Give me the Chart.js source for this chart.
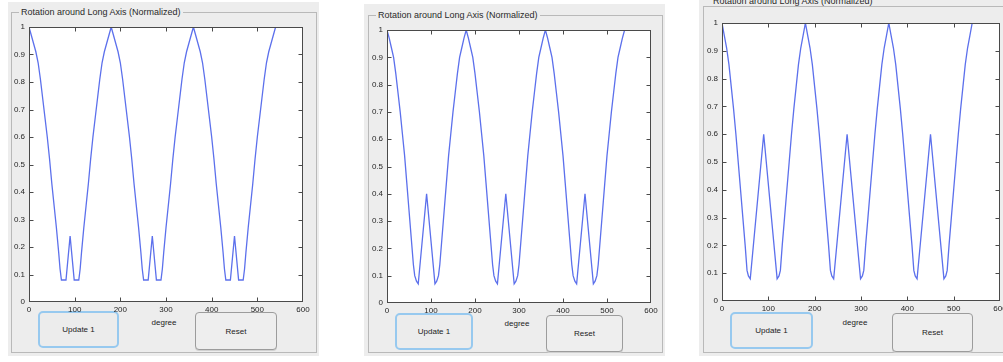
<!DOCTYPE html>
<html><head><meta charset="utf-8">
<script src="https://cdn.jsdelivr.net/npm/chart.js@4.4.0/dist/chart.umd.min.js"></script>
<style>
html,body{margin:0;padding:0;}
body{width:1003px;height:362px;background:#fff;position:relative;overflow:hidden;font-family:"Liberation Sans",Arial,Helvetica,sans-serif;}
.panel{position:absolute;background:#ededed;}
.frame{position:absolute;box-sizing:border-box;border:1px solid #b9b9b9;}
.title{position:absolute;font-size:9px;line-height:10px;color:#2a2a2a;background:#ededed;padding:0 2px;white-space:nowrap;}
.btn{position:absolute;box-sizing:border-box;font-size:8px;color:#222;display:flex;align-items:center;justify-content:center;}
.upd{border:2px solid #97c9ef;border-radius:5px;background:#ececec;}
.rst{border:1px solid #9c9c9c;border-radius:4px;background:#eeeeee;box-shadow:0 1px 0 #d0d0d0;}
.xl{position:absolute;font-size:8px;line-height:9px;color:#222;transform:translateX(-50%);white-space:nowrap;}
.cv{position:absolute;}
</style>
</head><body>
<script>
// ---------- data ----------
const titleText = "Rotation around Long Axis (Normalized)";
const xAxisLabel = "degree";
const updateLabel = "Update 1";
const resetLabel = "Reset";

const xTickValues = [0,100,200,300,400,500,600];
const xTickLabels = ["0","100","200","300","400","500","600"];
const yTickValues = [0,0.1,0.2,0.3,0.4,0.5,0.6,0.7,0.8,0.9,1];
const yTickLabels = ["0","0.1","0.2","0.3","0.4","0.5","0.6","0.7","0.8","0.9","1"];

// Panel 1 (small bump 0.24)
const p1Deg = [0,5,10,15,20,25,30,35,40,45,50,55,60,65,68,71,81,90,99,109,112,115,120,125,130,135,140,145,150,155,160,165,170,175,180,
185,190,195,200,205,210,215,220,225,230,235,240,245,248,251,261,270,279,289,292,295,300,305,310,315,320,325,330,335,340,345,350,355,360,
365,370,375,380,385,390,395,400,405,410,415,420,425,428,431,441,450,459,469,472,475,480,485,490,495,500,505,510,515,520,525,530,535,540];
const p1Val = [1.00,0.97,0.94,0.91,0.87,0.81,0.74,0.67,0.60,0.52,0.43,0.35,0.27,0.18,0.12,0.08,0.08,0.24,0.08,0.08,0.12,0.18,0.27,0.35,0.43,0.52,0.60,0.67,0.74,0.81,0.87,0.91,0.94,0.97,1.00,
0.97,0.94,0.91,0.87,0.81,0.74,0.67,0.60,0.52,0.43,0.35,0.27,0.18,0.12,0.08,0.08,0.24,0.08,0.08,0.12,0.18,0.27,0.35,0.43,0.52,0.60,0.67,0.74,0.81,0.87,0.91,0.94,0.97,1.00,
0.97,0.94,0.91,0.87,0.81,0.74,0.67,0.60,0.52,0.43,0.35,0.27,0.18,0.12,0.08,0.08,0.24,0.08,0.08,0.12,0.18,0.27,0.35,0.43,0.52,0.60,0.67,0.74,0.81,0.87,0.91,0.94,0.97,1.00];

// Panel 2 (bump 0.4)
const p2Deg = [0,5,10,15,20,25,30,35,40,45,50,55,60,63,67,71,90,109,113,117,120,125,130,135,140,145,150,155,160,165,170,175,180,
185,190,195,200,205,210,215,220,225,230,235,240,243,247,251,270,289,293,297,300,305,310,315,320,325,330,335,340,345,350,355,360,
365,370,375,380,385,390,395,400,405,410,415,420,423,427,431,450,469,473,477,480,485,490,495,500,505,510,515,520,525,530,535,540];
const p2Val = [1.00,0.97,0.935,0.90,0.84,0.77,0.70,0.62,0.54,0.44,0.34,0.24,0.14,0.10,0.08,0.07,0.40,0.07,0.08,0.10,0.14,0.24,0.34,0.44,0.54,0.62,0.70,0.77,0.84,0.90,0.935,0.97,1.00,
0.97,0.935,0.90,0.84,0.77,0.70,0.62,0.54,0.44,0.34,0.24,0.14,0.10,0.08,0.07,0.40,0.07,0.08,0.10,0.14,0.24,0.34,0.44,0.54,0.62,0.70,0.77,0.84,0.90,0.935,0.97,1.00,
0.97,0.935,0.90,0.84,0.77,0.70,0.62,0.54,0.44,0.34,0.24,0.14,0.10,0.08,0.07,0.40,0.07,0.08,0.10,0.14,0.24,0.34,0.44,0.54,0.62,0.70,0.77,0.84,0.90,0.935,0.97,1.00];

// Panel 3 (bump 0.6)
const p3Deg = [0,5,10,15,20,25,30,35,40,45,50,54,57,61,90,119,123,126,130,135,140,145,150,155,160,165,170,175,180,
185,190,195,200,205,210,215,220,225,230,234,237,241,270,299,303,306,310,315,320,325,330,335,340,345,350,355,360,
365,370,375,380,385,390,395,400,405,410,414,417,421,450,479,483,486,490,495,500,505,510,515,520,525,530,535,540];
const p3Val = [1.00,0.955,0.91,0.85,0.77,0.69,0.60,0.50,0.40,0.30,0.20,0.11,0.09,0.08,0.60,0.08,0.09,0.11,0.20,0.30,0.40,0.50,0.60,0.69,0.77,0.85,0.91,0.955,1.00,
0.955,0.91,0.85,0.77,0.69,0.60,0.50,0.40,0.30,0.20,0.11,0.09,0.08,0.60,0.08,0.09,0.11,0.20,0.30,0.40,0.50,0.60,0.69,0.77,0.85,0.91,0.955,1.00,
0.955,0.91,0.85,0.77,0.69,0.60,0.50,0.40,0.30,0.20,0.11,0.09,0.08,0.60,0.08,0.09,0.11,0.20,0.30,0.40,0.50,0.60,0.69,0.77,0.85,0.91,0.955,1.00];

// ---------- layout ----------
const panels = [
  {xs:p1Deg, ys:p1Val,
   panel:{x:8,y:2,w:311,h:354}, frame:{x:11,y:12,w:306,h:341}, title:{x:19,y:7},
   plot:{l:29,t:27,r:303,b:302}, upd:{x:38,y:311,w:81,h:37}, rst:{x:195,y:312,w:82,h:38}, lab:{x:164,y:318}},
  {xs:p2Deg, ys:p2Val,
   panel:{x:364,y:4,w:301,h:352}, frame:{x:368,y:15,w:295,h:338}, title:{x:376,y:10},
   plot:{l:387,t:30,r:651,b:303}, upd:{x:395,y:313,w:78,h:37}, rst:{x:546,y:315,w:77,h:37}, lab:{x:517,y:319}},
  {xs:p3Deg, ys:p3Val,
   panel:{x:699,y:0,w:310,h:356}, frame:{x:703,y:6,w:305,h:347}, title:{x:711,y:-4},
   plot:{l:722,t:23,r:1000,b:301}, upd:{x:730,y:312,w:83,h:37}, rst:{x:892,y:313,w:81,h:39}, lab:{x:855,y:318}}
];

function el(cls, r, text){
  const d = document.createElement('div');
  d.className = cls;
  d.style.left = r.x + 'px'; d.style.top = r.y + 'px';
  if (r.w !== undefined) { d.style.width = r.w + 'px'; d.style.height = r.h + 'px'; }
  if (text !== undefined) d.textContent = text;
  document.body.appendChild(d);
  return d;
}

const boxPlugin = {
  id: 'matlabBox',
  beforeDatasetsDraw(chart){
    const {ctx, chartArea:a} = chart;
    ctx.save(); ctx.fillStyle = '#ffffff';
    ctx.fillRect(a.left, a.top, a.right - a.left, a.bottom - a.top);
    ctx.restore();
  },
  afterDraw(chart){
    const {ctx, chartArea:a, scales} = chart;
    const L = Math.round(a.left)+0.5, R = Math.round(a.right)-0.5, T = Math.round(a.top)+0.5, B = Math.round(a.bottom)-0.5;
    ctx.save();
    ctx.strokeStyle = '#4a4a4a'; ctx.lineWidth = 1;
    ctx.strokeRect(L, T, R - L, B - T);
    ctx.beginPath();
    xTickValues.forEach((v) => {
      const px = Math.round(scales.x.getPixelForValue(v)) + 0.5;
      if (px <= L + 1 || px >= R - 1) return;
      ctx.moveTo(px, B); ctx.lineTo(px, B - 4);
      ctx.moveTo(px, T); ctx.lineTo(px, T + 4);
    });
    yTickValues.forEach((v) => {
      const py = Math.round(scales.y.getPixelForValue(v)) + 0.5;
      if (py <= T + 1 || py >= B - 1) return;
      ctx.moveTo(L, py); ctx.lineTo(L + 4, py);
      ctx.moveTo(R, py); ctx.lineTo(R - 4, py);
    });
    ctx.stroke();
    ctx.restore();
  }
};

const YW = 32, XH = 17, PT = 6, PR = 10;
const tickFont = {family:'"Liberation Sans", Arial, sans-serif', size:8};

panels.forEach((p) => {
  el('panel', p.panel);
  el('frame', p.frame);
  el('title', p.title, titleText);
  el('btn upd', p.upd, updateLabel);
  el('btn rst', p.rst, resetLabel);
  el('xl', p.lab, xAxisLabel);

  const w = (p.plot.r - p.plot.l) + YW + PR;
  const h = (p.plot.b - p.plot.t) + PT + XH;
  const c = document.createElement('canvas');
  c.className = 'cv';
  c.width = w; c.height = h;
  c.style.width = w + 'px'; c.style.height = h + 'px';
  c.style.left = (p.plot.l - YW) + 'px';
  c.style.top = (p.plot.t - PT) + 'px';
  document.body.appendChild(c);

  new Chart(c.getContext('2d'), {
    type: 'line',
    data: {
      datasets: [{
        data: p.xs.map((d, i) => ({x: d, y: p.ys[i]})),
        borderColor: 'rgb(92,112,236)',
        borderWidth: 1.3,
        pointRadius: 0,
        tension: 0,
        fill: false
      }]
    },
    options: {
      responsive: false,
      animation: false,
      events: [],
      devicePixelRatio: 1,
      layout: {padding: {top: PT, right: PR, left: 0, bottom: 0}},
      plugins: {legend: {display: false}, tooltip: {enabled: false}, title: {display: false}},
      scales: {
        x: {
          type: 'linear', min: 0, max: 600,
          grid: {display: false, drawTicks: false},
          border: {display: false},
          afterBuildTicks: (s) => { s.ticks = xTickValues.map(v => ({value: v})); },
          afterFit: (s) => { s.height = XH; s.paddingLeft = 0; s.paddingRight = 0; },
          ticks: {
            autoSkip: false, maxRotation: 0, padding: 3, color: '#262626', font: tickFont,
            callback: (v) => { const i = xTickValues.indexOf(v); return i >= 0 ? xTickLabels[i] : ''; }
          }
        },
        y: {
          type: 'linear', min: 0, max: 1,
          grid: {display: false, drawTicks: false},
          border: {display: false},
          afterBuildTicks: (s) => { s.ticks = yTickValues.map(v => ({value: v})); },
          afterFit: (s) => { s.width = YW; s.paddingTop = 0; s.paddingBottom = 0; },
          ticks: {
            autoSkip: false, padding: 4, color: '#262626', font: tickFont,
            callback: (v) => { const i = yTickValues.findIndex(t => Math.abs(t - v) < 1e-9); return i >= 0 ? yTickLabels[i] : ''; }
          }
        }
      }
    },
    plugins: [boxPlugin]
  });
});
</script>
</body></html>
